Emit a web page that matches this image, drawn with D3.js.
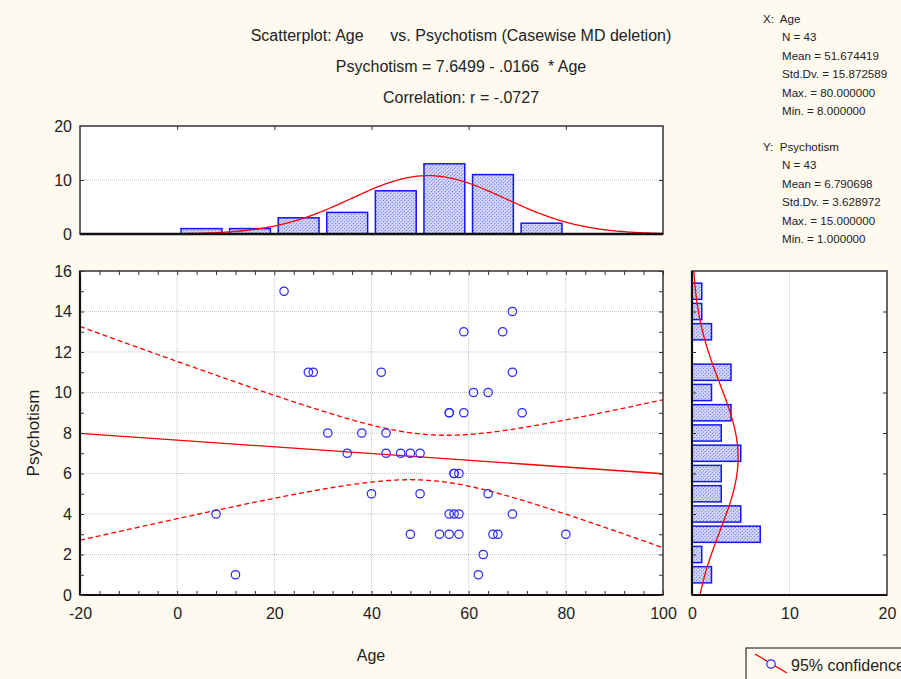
<!DOCTYPE html>
<html>
<head>
<meta charset="utf-8">
<script src="https://cdn.jsdelivr.net/npm/d3@7"></script>
<style>
body { margin: 0; background: #fefaf0; }
svg { display: block; font-family: "Liberation Sans", Arial, sans-serif; }
</style>
</head>
<body>
<svg id="chart" width="901" height="679"></svg>
<script>
// cases (Age, Psychotism), 43 pairs
const age = [22,27,28,31,38,35,69,59,67,42,69,61,64,56,59,71,56,43,43,46,48,50,8,12,40,57,58,57,50,64,56,57,58,69,48,54,56,58,65,66,80,63,62];
const psychotism = [15,11,11,8,8,7,14,13,13,11,11,10,10,9,9,9,9,8,7,7,7,7,4,1,5,6,6,6,5,5,4,4,4,4,3,3,3,3,3,3,3,2,1];

// titles and the summary text block
const titleLines = [
    "Scatterplot: Age      vs. Psychotism (Casewise MD deletion)",
    "Psychotism = 7.6499 - .0166  * Age",
    "Correlation: r = -.0727"
];
const xStats = ["X:  Age", "N = 43", "Mean = 51.674419", "Std.Dv. = 15.872589", "Max. = 80.000000", "Min. = 8.000000"];
const yStats = ["Y:  Psychotism", "N = 43", "Mean = 6.790698", "Std.Dv. = 3.628972", "Max. = 15.000000", "Min. = 1.000000"];

// axis tick labels
const xTicks = [-20, 0, 20, 40, 60, 80, 100];
const yTicks = [0, 2, 4, 6, 8, 10, 12, 14, 16];
const topHistTicks = [0, 10, 20];
const rightHistTicks = [0, 10, 20];
const ageBinEdges = [0, 10, 20, 30, 40, 50, 60, 70, 80];

const tCrit = 2.0195; // t(41), 95%

const svg = d3.select("#chart");
const ink = "#222";
const plain = d => String(d); // keep the hyphen minus like the original

// pattern for the histogram bars
const defs = svg.append("defs");
const pat = defs.append("pattern")
    .attr("id", "hatch")
    .attr("width", 2.5).attr("height", 2.5)
    .attr("patternUnits", "userSpaceOnUse")
    .attr("patternTransform", "rotate(45)");
pat.append("rect").attr("width", 2.5).attr("height", 2.5).attr("fill", "#d6d9fb");
pat.append("line").attr("x1", 0.4).attr("y1", 0).attr("x2", 0.4).attr("y2", 2.5)
    .attr("stroke", "#4a58e2").attr("stroke-width", 0.7).attr("stroke-dasharray", "1.5,1");

defs.append("clipPath").attr("id", "mainClip")
    .append("rect").attr("x", 80).attr("y", 271).attr("width", 583).attr("height", 324);

// scales
const x = d3.scaleLinear().domain([-20, 100]).range([80, 663]);
const y = d3.scaleLinear().domain([0, 16]).range([595, 271]);
const yTop = d3.scaleLinear().domain([0, 20]).range([234, 126]);
const xRight = d3.scaleLinear().domain([0, 20]).range([692, 887]);

// stats
const n = age.length;
const mx = d3.mean(age), my = d3.mean(psychotism);
const sdx = d3.deviation(age), sdy = d3.deviation(psychotism);
const sxx = d3.sum(age, a => (a - mx) ** 2);
const sxy = d3.sum(age.map((a, i) => (a - mx) * (psychotism[i] - my)));
const slope = sxy / sxx, icpt = my - slope * mx;
const sse = d3.sum(age.map((a, i) => (psychotism[i] - (icpt + slope * a)) ** 2));
const se = Math.sqrt(sse / (n - 2));

function normPdf(v, m, s) {
    return Math.exp(-0.5 * ((v - m) / s) ** 2) / (s * Math.sqrt(2 * Math.PI));
}

// ---------- titles ----------
svg.selectAll(".title")
    .data(titleLines)
    .enter().append("text")
    .attr("x", 461)
    .attr("y", (d, i) => 41 + i * 31)
    .attr("text-anchor", "middle")
    .attr("font-size", "16px")
    .attr("fill", ink)
    .style("white-space", "pre")
    .text(d => d);

// ---------- stats block ----------
function statBlock(lines, top) {
    svg.selectAll(null)
        .data(lines)
        .enter().append("text")
        .attr("x", (d, i) => i === 0 ? 763 : 782)
        .attr("y", (d, i) => top + i * 18.4)
        .attr("font-size", "11.6px")
        .attr("fill", ink)
        .style("white-space", "pre")
        .text(d => d);
}
statBlock(xStats, 23);
statBlock(yStats, 151);

// ---------- top histogram (Age) ----------
const gTop = svg.append("g");
gTop.append("rect").attr("x", 80).attr("y", 126).attr("width", 583).attr("height", 108).attr("fill", "white");
gTop.append("line")
    .attr("x1", 80).attr("x2", 663).attr("y1", yTop(10)).attr("y2", yTop(10))
    .attr("stroke", "#c4c4c4").attr("stroke-dasharray", "1,1");

// STATISTICA style bins: (a, a+10]
const ageBins = ageBinEdges.slice(0, -1).map((a, i) => ({
    x0: a, x1: ageBinEdges[i + 1],
    count: age.filter(v => (i === 0 ? v >= a : v > a) && v <= ageBinEdges[i + 1]).length
}));
gTop.selectAll("rect.bar")
    .data(ageBins)
    .enter().append("rect")
    .attr("class", "bar")
    .attr("x", d => x(d.x0 + 0.8))
    .attr("width", d => x(d.x1 - 0.8) - x(d.x0 + 0.8))
    .attr("y", d => yTop(d.count))
    .attr("height", d => yTop(0) - yTop(d.count))
    .attr("fill", "url(#hatch)")
    .attr("stroke", "#1515f5")
    .attr("stroke-width", 1.5);

const topCurve = d3.range(-20, 100.01, 0.5).map(v => [v, n * 10 * normPdf(v, mx, sdx)]);
gTop.append("path")
    .datum(topCurve)
    .attr("fill", "none")
    .attr("stroke", "red")
    .attr("stroke-width", 1.3)
    .attr("d", d3.line().x(d => x(d[0])).y(d => yTop(d[1])));

gTop.append("rect").attr("x", 80).attr("y", 126).attr("width", 583).attr("height", 108)
    .attr("fill", "none").attr("stroke", "#333").attr("stroke-width", 1.5);
gTop.append("line").attr("x1", 80).attr("x2", 663).attr("y1", 234).attr("y2", 234)
    .attr("stroke", "#111").attr("stroke-width", 2.5);

// top hist ticks
gTop.append("g").attr("transform", "translate(0,126)")
    .call(d3.axisBottom(x).tickValues([0, 20, 40, 60, 80]).tickSize(4).tickFormat(""))
    .call(g => g.select(".domain").remove());
gTop.append("g").attr("transform", "translate(80,0)")
    .call(d3.axisRight(yTop).tickValues([10]).tickSize(4).tickFormat(""))
    .call(g => g.select(".domain").remove());
gTop.append("g").attr("transform", "translate(663,0)")
    .call(d3.axisLeft(yTop).tickValues([10]).tickSize(4).tickFormat(""))
    .call(g => g.select(".domain").remove());
gTop.append("g").attr("transform", "translate(80,0)")
    .call(d3.axisLeft(yTop).tickValues(topHistTicks).tickSize(0).tickPadding(8).tickFormat(plain))
    .call(g => g.select(".domain").remove())
    .call(g => g.selectAll("text").attr("font-size", "16px").attr("fill", ink).attr("font-family", "Liberation Sans, Arial, sans-serif"));

// ---------- main scatter ----------
const gMain = svg.append("g");
gMain.append("rect").attr("x", 80).attr("y", 271).attr("width", 583).attr("height", 324).attr("fill", "white");

gMain.selectAll("line.vgrid")
    .data([0, 20, 40, 60, 80])
    .enter().append("line")
    .attr("x1", d => x(d)).attr("x2", d => x(d))
    .attr("y1", 271).attr("y2", 595)
    .attr("stroke", "#c4c4c4").attr("stroke-dasharray", "1,1");
gMain.selectAll("line.hgrid")
    .data(yTicks.slice(1, -1))
    .enter().append("line")
    .attr("x1", 80).attr("x2", 663)
    .attr("y1", d => y(d)).attr("y2", d => y(d))
    .attr("stroke", "#c4c4c4").attr("stroke-dasharray", "1,1");

const plot = gMain.append("g").attr("clip-path", "url(#mainClip)");
const xs = d3.range(-20, 100.01, 0.5);
const bandUp = xs.map(v => [v, icpt + slope * v + tCrit * se * Math.sqrt(1 / n + (v - mx) ** 2 / sxx)]);
const bandLo = xs.map(v => [v, icpt + slope * v - tCrit * se * Math.sqrt(1 / n + (v - mx) ** 2 / sxx)]);
const lineGen = d3.line().x(d => x(d[0])).y(d => y(d[1]));

plot.selectAll("path.band")
    .data([bandUp, bandLo])
    .enter().append("path")
    .attr("fill", "none")
    .attr("stroke", "red")
    .attr("stroke-width", 1.3)
    .attr("stroke-dasharray", "5,3")
    .attr("d", lineGen);

plot.append("path")
    .datum([[-20, icpt + slope * -20], [100, icpt + slope * 100]])
    .attr("fill", "none")
    .attr("stroke", "red")
    .attr("stroke-width", 1.3)
    .attr("d", lineGen);

plot.selectAll("circle")
    .data(age.map((a, i) => [a, psychotism[i]]))
    .enter().append("circle")
    .attr("cx", d => x(d[0]))
    .attr("cy", d => y(d[1]))
    .attr("r", 4.2)
    .attr("fill", "none")
    .attr("stroke", "#2a2aff")
    .attr("stroke-width", 1.2);

gMain.append("rect").attr("x", 80).attr("y", 271).attr("width", 583).attr("height", 324)
    .attr("fill", "none").attr("stroke", "#333").attr("stroke-width", 1.5);
gMain.append("line").attr("x1", 80).attr("x2", 80).attr("y1", 271).attr("y2", 595)
    .attr("stroke", "#111").attr("stroke-width", 2.2);
gMain.append("line").attr("x1", 80).attr("x2", 663).attr("y1", 595).attr("y2", 595)
    .attr("stroke", "#111").attr("stroke-width", 2.2);

// inward ticks
const minorX = d3.range(-20, 100.01, 4);
const minorY = d3.range(0, 16.01, 1);
gMain.append("g").attr("transform", "translate(0,271)")
    .call(d3.axisBottom(x).tickValues(minorX).tickSize(4).tickFormat(""))
    .call(g => g.select(".domain").remove());
gMain.append("g").attr("transform", "translate(0,595)")
    .call(d3.axisTop(x).tickValues(minorX).tickSize(4).tickFormat(""))
    .call(g => g.select(".domain").remove());
gMain.append("g").attr("transform", "translate(80,0)")
    .call(d3.axisRight(y).tickValues(minorY).tickSize(4).tickFormat(""))
    .call(g => g.select(".domain").remove());
gMain.append("g").attr("transform", "translate(663,0)")
    .call(d3.axisLeft(y).tickValues(minorY).tickSize(4).tickFormat(""))
    .call(g => g.select(".domain").remove());

// tick labels
gMain.append("g").attr("transform", "translate(0,595)")
    .call(d3.axisBottom(x).tickValues(xTicks).tickSize(0).tickPadding(13).tickFormat(plain))
    .call(g => g.select(".domain").remove())
    .call(g => g.selectAll("text").attr("font-size", "16px").attr("fill", ink).attr("font-family", "Liberation Sans, Arial, sans-serif"));
gMain.append("g").attr("transform", "translate(80,0)")
    .call(d3.axisLeft(y).tickValues(yTicks).tickSize(0).tickPadding(8).tickFormat(plain))
    .call(g => g.select(".domain").remove())
    .call(g => g.selectAll("text").attr("font-size", "16px").attr("fill", ink).attr("font-family", "Liberation Sans, Arial, sans-serif"));

svg.append("text")
    .attr("x", 371).attr("y", 661)
    .attr("text-anchor", "middle")
    .attr("font-size", "16px").attr("fill", ink)
    .text("Age");
svg.append("text")
    .attr("transform", "translate(39,433) rotate(-90)")
    .attr("text-anchor", "middle")
    .attr("font-size", "17px").attr("fill", ink)
    .text("Psychotism");

// ---------- right histogram (Psychotism) ----------
const gRight = svg.append("g");
gRight.append("rect").attr("x", 692).attr("y", 271).attr("width", 195).attr("height", 324).attr("fill", "white");
gRight.append("line")
    .attr("x1", xRight(10)).attr("x2", xRight(10)).attr("y1", 271).attr("y2", 595)
    .attr("stroke", "#c4c4c4").attr("stroke-dasharray", "1,1");

const psyCounts = Array.from(d3.rollup(psychotism, v => v.length, d => d), ([value, count]) => ({ value, count }));
gRight.selectAll("rect.bar")
    .data(psyCounts)
    .enter().append("rect")
    .attr("class", "bar")
    .attr("x", xRight(0))
    .attr("width", d => xRight(d.count) - xRight(0))
    .attr("y", d => y(d.value + 0.4))
    .attr("height", d => y(d.value - 0.4) - y(d.value + 0.4))
    .attr("fill", "url(#hatch)")
    .attr("stroke", "#1515f5")
    .attr("stroke-width", 1.5);

const rightCurve = d3.range(0, 16.01, 0.1).map(v => [v, n * normPdf(v, my, sdy)]);
gRight.append("path")
    .datum(rightCurve)
    .attr("fill", "none")
    .attr("stroke", "red")
    .attr("stroke-width", 1.3)
    .attr("d", d3.line().x(d => xRight(d[1])).y(d => y(d[0])));

gRight.append("rect").attr("x", 692).attr("y", 271).attr("width", 195).attr("height", 324)
    .attr("fill", "none").attr("stroke", "#333").attr("stroke-width", 1.5);
gRight.append("line").attr("x1", 692).attr("x2", 692).attr("y1", 271).attr("y2", 595)
    .attr("stroke", "#111").attr("stroke-width", 2.2);
gRight.append("line").attr("x1", 692).attr("x2", 887).attr("y1", 595).attr("y2", 595)
    .attr("stroke", "#111").attr("stroke-width", 2.2);

const evenY = d3.range(2, 16, 2);
gRight.append("g").attr("transform", "translate(692,0)")
    .call(d3.axisRight(y).tickValues(evenY).tickSize(4).tickFormat(""))
    .call(g => g.select(".domain").remove());
gRight.append("g").attr("transform", "translate(887,0)")
    .call(d3.axisLeft(y).tickValues(evenY).tickSize(4).tickFormat(""))
    .call(g => g.select(".domain").remove());
gRight.append("g").attr("transform", "translate(0,595)")
    .call(d3.axisBottom(xRight).tickValues(rightHistTicks).tickSize(0).tickPadding(13).tickFormat(plain))
    .call(g => g.select(".domain").remove())
    .call(g => g.selectAll("text").attr("font-size", "16px").attr("fill", ink).attr("font-family", "Liberation Sans, Arial, sans-serif"));

// tick marks colour
svg.selectAll(".tick line").attr("stroke", "#333");

// ---------- legend (runs off the right edge, as in the original) ----------
const gLeg = svg.append("g");
gLeg.append("rect").attr("x", 746).attr("y", 648).attr("width", 170).attr("height", 40)
    .attr("fill", "#fefaf0").attr("stroke", "#333").attr("stroke-width", 1.2);
gLeg.append("line").attr("x1", 755).attr("y1", 654).attr("x2", 787).attr("y2", 673)
    .attr("stroke", "red").attr("stroke-width", 1.3);
gLeg.append("circle").attr("cx", 771).attr("cy", 664).attr("r", 4.2)
    .attr("fill", "#fefaf0").attr("stroke", "#2a2aff").attr("stroke-width", 1.2);
gLeg.append("text").attr("x", 791).attr("y", 671)
    .attr("font-size", "16px").attr("fill", ink)
    .text("95% confidence");
</script>
</body>
</html>
